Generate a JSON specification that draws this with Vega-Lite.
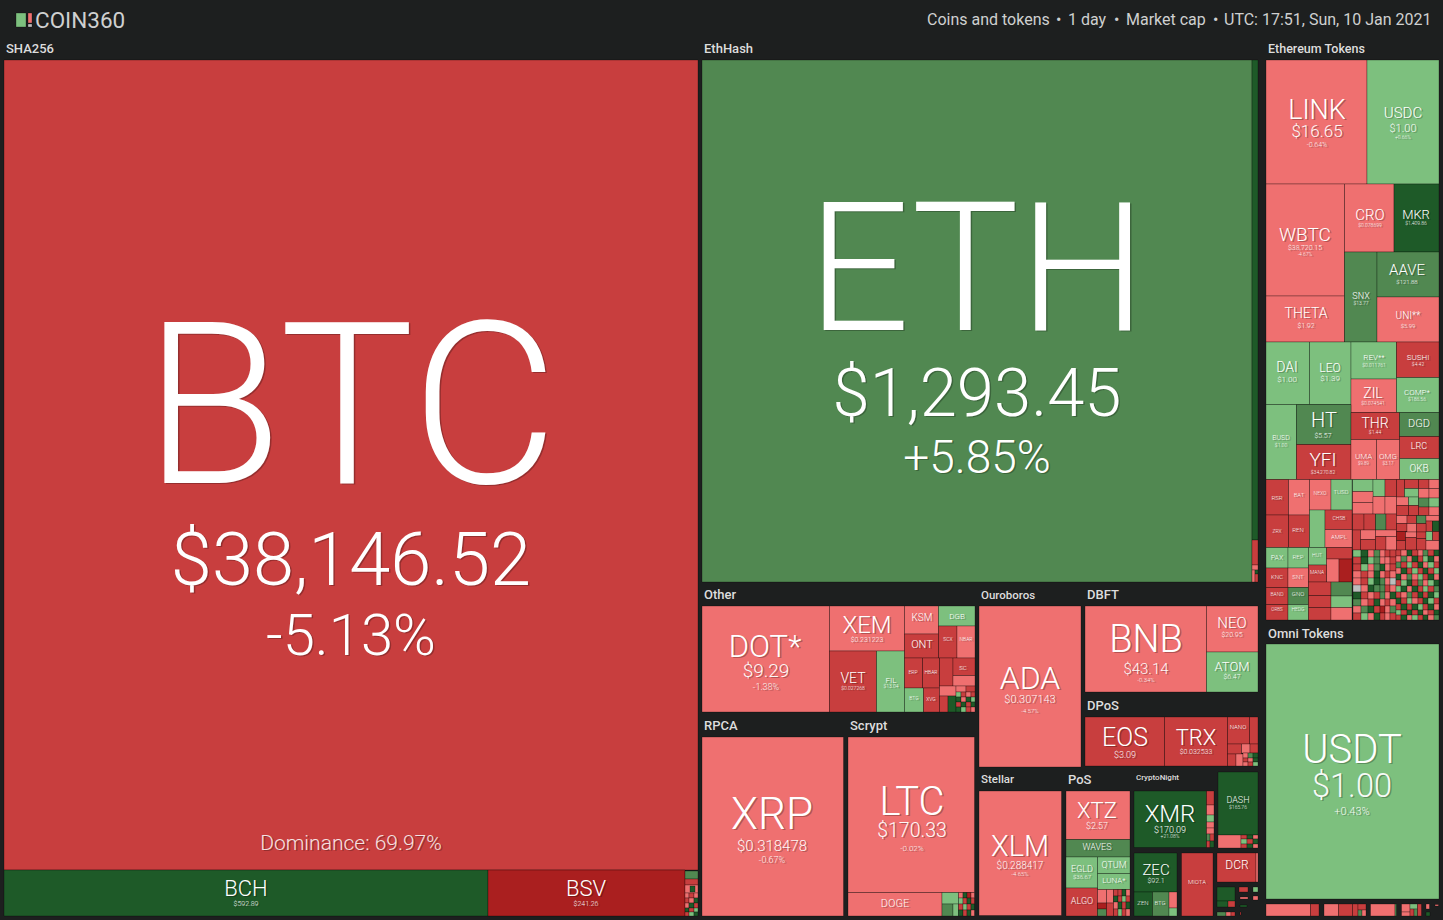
{"$schema":"https://vega.github.io/schema/vega-lite/v6.json","width":1443,"height":920,"padding":0,"autosize":{"type":"fit","contains":"padding"},"background":"#1d1f1f","config":{"view":{"stroke":null}},
"layer":[
{"data":{"values":[
{"x0":16,"x1":26,"y0":13,"y1":27,"c":2},{"x0":28,"x1":32,"y0":13,"y1":23,"c":-2},{"x0":28,"x1":32,"y0":24,"y1":27,"c":0},
{"x0":4,"x1":698,"y0":60,"y1":870,"c":-5.13},{"x0":4,"x1":488,"y0":870,"y1":916,"c":14},{"x0":488,"x1":685,"y0":870,"y1":916,"c":-11},{"x0":685,"x1":698,"y0":871,"y1":879,"c":7},{"x0":685,"x1":698,"y0":879,"y1":885,"c":-7},{"x0":685,"x1":698,"y0":885,"y1":893,"c":-2},{"x0":690,"x1":695,"y0":886,"y1":892,"c":14},
{"x0":685,"x1":689,"y0":893,"y1":898,"c":-2},{"x0":689,"x1":694,"y0":893,"y1":898,"c":-7},{"x0":694,"x1":698,"y0":893,"y1":898,"c":-2},{"x0":685,"x1":689,"y0":898,"y1":903,"c":-7},{"x0":689,"x1":694,"y0":898,"y1":903,"c":-2},{"x0":694,"x1":698,"y0":898,"y1":903,"c":14},{"x0":685,"x1":689,"y0":903,"y1":908,"c":-2},{"x0":689,"x1":694,"y0":903,"y1":908,"c":14},{"x0":694,"x1":698,"y0":903,"y1":908,"c":-7},{"x0":685,"x1":689,"y0":908,"y1":912,"c":14},{"x0":689,"x1":694,"y0":908,"y1":912,"c":-7},{"x0":694,"x1":698,"y0":908,"y1":912,"c":2},{"x0":685,"x1":689,"y0":912,"y1":916,"c":-7},{"x0":689,"x1":694,"y0":912,"y1":916,"c":2},{"x0":694,"x1":698,"y0":912,"y1":916,"c":14},
{"x0":702,"x1":1252,"y0":60,"y1":582,"c":5.85},{"x0":1252,"x1":1258,"y0":60,"y1":540,"c":14},{"x0":1252,"x1":1258,"y0":540,"y1":565,"c":-7},{"x0":1252,"x1":1258,"y0":565,"y1":570,"c":-2},{"x0":1252,"x1":1255,"y0":570,"y1":582,"c":-2},{"x0":1255,"x1":1258,"y0":570,"y1":574,"c":14},{"x0":1255,"x1":1258,"y0":574,"y1":582,"c":-7},
{"x0":1266,"x1":1367,"y0":60,"y1":184,"c":-0.64},{"x0":1367,"x1":1439,"y0":60,"y1":184,"c":0.66},{"x0":1266,"x1":1344.5,"y0":184,"y1":296,"c":-4.67},{"x0":1266,"x1":1344.5,"y0":296,"y1":342,"c":-3},{"x0":1344.5,"x1":1394,"y0":184,"y1":252,"c":-2},{"x0":1394,"x1":1439,"y0":184,"y1":252,"c":14},{"x0":1344.5,"x1":1377,"y0":252,"y1":342,"c":7},{"x0":1377,"x1":1439,"y0":252,"y1":297,"c":7},{"x0":1377,"x1":1439,"y0":297,"y1":342,"c":-2},
{"x0":1266,"x1":1309.5,"y0":342,"y1":404.5,"c":0.2},{"x0":1309.5,"x1":1351,"y0":342,"y1":404.5,"c":2},{"x0":1351,"x1":1396.5,"y0":342,"y1":379,"c":2},{"x0":1396.5,"x1":1439,"y0":342,"y1":377.5,"c":-7},{"x0":1351,"x1":1396.5,"y0":379,"y1":412.5,"c":-2},{"x0":1396.5,"x1":1439,"y0":377.5,"y1":412.5,"c":2},{"x0":1266,"x1":1296.5,"y0":404.5,"y1":479.5,"c":0.2},{"x0":1296.5,"x1":1351,"y0":404.5,"y1":444.5,"c":7},{"x0":1296.5,"x1":1351,"y0":444.5,"y1":479.5,"c":-7},{"x0":1351,"x1":1399.5,"y0":412.5,"y1":439.5,"c":-7},{"x0":1399.5,"x1":1439,"y0":412.5,"y1":436.5,"c":7},{"x0":1399.5,"x1":1439,"y0":436.5,"y1":458.5,"c":-7},{"x0":1399.5,"x1":1439,"y0":458.5,"y1":479.5,"c":2},{"x0":1351,"x1":1376.5,"y0":439.5,"y1":479.5,"c":-2},{"x0":1376.5,"x1":1399.5,"y0":439.5,"y1":479.5,"c":-2},
{"x0":1266,"x1":1288.5,"y0":479.5,"y1":515,"c":-7},{"x0":1288.5,"x1":1309.5,"y0":479.5,"y1":515,"c":-2},{"x0":1309.5,"x1":1331,"y0":479.5,"y1":510,"c":-2},{"x0":1331,"x1":1352,"y0":479.5,"y1":510,"c":2},{"x0":1266,"x1":1288.5,"y0":515,"y1":547.5,"c":-7},{"x0":1288.5,"x1":1309.5,"y0":515,"y1":547.5,"c":-7},{"x0":1309.5,"x1":1325,"y0":510,"y1":547.5,"c":2},{"x0":1325,"x1":1352,"y0":510,"y1":529.5,"c":-7},{"x0":1325,"x1":1352,"y0":529.5,"y1":547.5,"c":-2},{"x0":1266,"x1":1288,"y0":547.5,"y1":568,"c":2},{"x0":1288,"x1":1308.5,"y0":547.5,"y1":568,"c":2},{"x0":1308.5,"x1":1326.5,"y0":547.5,"y1":565,"c":2},{"x0":1326.5,"x1":1352,"y0":547.5,"y1":559,"c":-7},{"x0":1326.5,"x1":1339,"y0":559,"y1":582,"c":-2},{"x0":1339,"x1":1352,"y0":559,"y1":582,"c":-12},{"x0":1266,"x1":1288,"y0":568,"y1":587.5,"c":-7},{"x0":1288,"x1":1308.5,"y0":568,"y1":587.5,"c":-2},{"x0":1308.5,"x1":1326.5,"y0":565,"y1":582,"c":-7},{"x0":1266,"x1":1288,"y0":587.5,"y1":604.5,"c":-7},{"x0":1288,"x1":1308.5,"y0":587.5,"y1":604.5,"c":7},{"x0":1266,"x1":1288,"y0":604.5,"y1":620,"c":-7},{"x0":1288,"x1":1308.5,"y0":604.5,"y1":620,"c":2},{"x0":1308.5,"x1":1331,"y0":582,"y1":595.5,"c":-7},{"x0":1308.5,"x1":1331,"y0":595.5,"y1":607.5,"c":-7},{"x0":1308.5,"x1":1331,"y0":607.5,"y1":620,"c":-7},{"x0":1331,"x1":1352,"y0":582,"y1":596,"c":7},{"x0":1331,"x1":1352,"y0":596,"y1":607.5,"c":2},{"x0":1331,"x1":1352,"y0":607.5,"y1":620,"c":-2},
{"x0":1352.5,"x1":1373,"y0":479.5,"y1":491.5,"c":2},{"x0":1373,"x1":1385,"y0":479.5,"y1":496.5,"c":2},{"x0":1385,"x1":1396.5,"y0":479.5,"y1":496.5,"c":-7},{"x0":1352.5,"x1":1373,"y0":491.5,"y1":502.5,"c":-2},{"x0":1352.5,"x1":1373,"y0":502.5,"y1":514,"c":-2},{"x0":1373,"x1":1385,"y0":496.5,"y1":514,"c":-2},{"x0":1385,"x1":1396.5,"y0":496.5,"y1":514,"c":-2},{"x0":1352.5,"x1":1364,"y0":514,"y1":530,"c":-7},{"x0":1364,"x1":1375.5,"y0":514,"y1":530,"c":-7},{"x0":1375.5,"x1":1386,"y0":514,"y1":530,"c":7},{"x0":1386,"x1":1396.5,"y0":514,"y1":530,"c":-7},{"x0":1352.5,"x1":1360.5,"y0":530,"y1":550,"c":-7},{"x0":1360.5,"x1":1375.5,"y0":530,"y1":539.5,"c":-2},{"x0":1360.5,"x1":1375.5,"y0":539.5,"y1":550,"c":-7},{"x0":1375.5,"x1":1396.5,"y0":530,"y1":536.5,"c":-2},{"x0":1375.5,"x1":1386,"y0":536.5,"y1":550,"c":-7},{"x0":1386,"x1":1396.5,"y0":536.5,"y1":550,"c":-2},
{"x0":1396.5,"x1":1404.5,"y0":479.5,"y1":497,"c":-7},{"x0":1404.5,"x1":1418.5,"y0":479.5,"y1":488.5,"c":-7},{"x0":1404.5,"x1":1418.5,"y0":488.5,"y1":497,"c":2},{"x0":1418.5,"x1":1429,"y0":479.5,"y1":488.5,"c":-7},{"x0":1429,"x1":1439,"y0":479.5,"y1":488.5,"c":-2},{"x0":1418.5,"x1":1429,"y0":488.5,"y1":498,"c":-2},{"x0":1429,"x1":1439,"y0":488.5,"y1":498,"c":-2},{"x0":1396.5,"x1":1408.5,"y0":497,"y1":505.5,"c":-2},{"x0":1408.5,"x1":1418.5,"y0":497,"y1":505.5,"c":2},{"x0":1418.5,"x1":1429,"y0":498,"y1":507,"c":7},{"x0":1429,"x1":1439,"y0":498,"y1":507,"c":2},{"x0":1396.5,"x1":1408.5,"y0":505.5,"y1":515.5,"c":-7},{"x0":1408.5,"x1":1418.5,"y0":505.5,"y1":515.5,"c":-7},{"x0":1418.5,"x1":1429,"y0":507,"y1":515.5,"c":-7},{"x0":1429,"x1":1439,"y0":507,"y1":515.5,"c":-2},{"x0":1396.5,"x1":1407,"y0":515.5,"y1":523.5,"c":-2},{"x0":1407,"x1":1416.5,"y0":515.5,"y1":523.5,"c":-7},{"x0":1416.5,"x1":1426,"y0":515.5,"y1":523.5,"c":7},{"x0":1426,"x1":1439,"y0":515.5,"y1":521,"c":-2},{"x0":1426,"x1":1432.5,"y0":521,"y1":531.5,"c":-7},{"x0":1432.5,"x1":1439,"y0":521,"y1":531.5,"c":14},{"x0":1396.5,"x1":1407,"y0":523.5,"y1":531.5,"c":-7},{"x0":1407,"x1":1416.5,"y0":523.5,"y1":532,"c":-2},{"x0":1416.5,"x1":1426,"y0":523.5,"y1":532,"c":-7},{"x0":1396.5,"x1":1405.5,"y0":531.5,"y1":540.5,"c":-12},{"x0":1405.5,"x1":1416.5,"y0":532,"y1":537.5,"c":-2},{"x0":1405.5,"x1":1416.5,"y0":537.5,"y1":550,"c":-7},{"x0":1416.5,"x1":1426,"y0":532,"y1":538.5,"c":-7},{"x0":1416.5,"x1":1426,"y0":538.5,"y1":550,"c":-7},{"x0":1426,"x1":1432.5,"y0":531.5,"y1":540.5,"c":2},{"x0":1432.5,"x1":1439,"y0":531.5,"y1":540.5,"c":-7},{"x0":1396.5,"x1":1405.5,"y0":540.5,"y1":550,"c":-7},{"x0":1426,"x1":1439,"y0":540.5,"y1":550,"c":-2},
{"x0":1353,"x1":1361,"y0":550,"y1":557,"c":2},{"x0":1361,"x1":1368,"y0":550,"y1":557,"c":14},{"x0":1368,"x1":1374,"y0":550,"y1":557,"c":-2},{"x0":1374,"x1":1380,"y0":550,"y1":557,"c":7},{"x0":1380,"x1":1385,"y0":550,"y1":557,"c":-2},{"x0":1385,"x1":1390,"y0":550,"y1":557,"c":-7},{"x0":1390,"x1":1396,"y0":550,"y1":557,"c":-7},
{"x0":1353,"x1":1361,"y0":557,"y1":564,"c":-7},{"x0":1361,"x1":1368,"y0":557,"y1":564,"c":14},{"x0":1368,"x1":1374,"y0":557,"y1":564,"c":2},{"x0":1374,"x1":1380,"y0":557,"y1":564,"c":7},{"x0":1380,"x1":1385,"y0":557,"y1":564,"c":-2},{"x0":1385,"x1":1390,"y0":557,"y1":564,"c":-2},{"x0":1390,"x1":1396,"y0":557,"y1":564,"c":-7},
{"x0":1353,"x1":1361,"y0":564,"y1":571,"c":-7},{"x0":1361,"x1":1368,"y0":564,"y1":571,"c":2},{"x0":1368,"x1":1374,"y0":564,"y1":571,"c":-2},{"x0":1374,"x1":1380,"y0":564,"y1":571,"c":7},{"x0":1380,"x1":1385,"y0":564,"y1":571,"c":14},{"x0":1385,"x1":1390,"y0":564,"y1":571,"c":-2},{"x0":1390,"x1":1396,"y0":564,"y1":571,"c":-7},
{"x0":1353,"x1":1361,"y0":571,"y1":578,"c":-2},{"x0":1361,"x1":1368,"y0":571,"y1":578,"c":-7},{"x0":1368,"x1":1374,"y0":571,"y1":578,"c":-2},{"x0":1374,"x1":1380,"y0":571,"y1":578,"c":14},{"x0":1380,"x1":1385,"y0":571,"y1":578,"c":-2},{"x0":1385,"x1":1390,"y0":571,"y1":578,"c":-7},{"x0":1390,"x1":1396,"y0":571,"y1":578,"c":-2},
{"x0":1353,"x1":1361,"y0":578,"y1":585,"c":-2},{"x0":1361,"x1":1368,"y0":578,"y1":585,"c":-7},{"x0":1368,"x1":1374,"y0":578,"y1":585,"c":2},{"x0":1374,"x1":1380,"y0":578,"y1":585,"c":14},{"x0":1380,"x1":1385,"y0":578,"y1":585,"c":7},{"x0":1385,"x1":1390,"y0":578,"y1":585,"c":-2},{"x0":1390,"x1":1396,"y0":578,"y1":585,"c":0},
{"x0":1353,"x1":1361,"y0":585,"y1":592,"c":0},{"x0":1361,"x1":1368,"y0":585,"y1":592,"c":-2},{"x0":1368,"x1":1374,"y0":585,"y1":592,"c":14},{"x0":1374,"x1":1380,"y0":585,"y1":592,"c":7},{"x0":1380,"x1":1385,"y0":585,"y1":592,"c":7},{"x0":1385,"x1":1390,"y0":585,"y1":592,"c":-7},{"x0":1390,"x1":1396,"y0":585,"y1":592,"c":-2},
{"x0":1353,"x1":1361,"y0":592,"y1":599,"c":14},{"x0":1361,"x1":1368,"y0":592,"y1":599,"c":-7},{"x0":1368,"x1":1374,"y0":592,"y1":599,"c":-2},{"x0":1374,"x1":1380,"y0":592,"y1":599,"c":-7},{"x0":1380,"x1":1385,"y0":592,"y1":599,"c":7},{"x0":1385,"x1":1390,"y0":592,"y1":599,"c":-2},{"x0":1390,"x1":1396,"y0":592,"y1":599,"c":14},
{"x0":1353,"x1":1361,"y0":599,"y1":606,"c":7},{"x0":1361,"x1":1368,"y0":599,"y1":606,"c":-2},{"x0":1368,"x1":1374,"y0":599,"y1":606,"c":-7},{"x0":1374,"x1":1380,"y0":599,"y1":606,"c":14},{"x0":1380,"x1":1385,"y0":599,"y1":606,"c":-2},{"x0":1385,"x1":1390,"y0":599,"y1":606,"c":-7},{"x0":1390,"x1":1396,"y0":599,"y1":606,"c":-2},
{"x0":1353,"x1":1361,"y0":606,"y1":613,"c":-2},{"x0":1361,"x1":1368,"y0":606,"y1":613,"c":7},{"x0":1368,"x1":1374,"y0":606,"y1":613,"c":14},{"x0":1374,"x1":1380,"y0":606,"y1":613,"c":-7},{"x0":1380,"x1":1385,"y0":606,"y1":613,"c":-12},{"x0":1385,"x1":1390,"y0":606,"y1":613,"c":-2},{"x0":1390,"x1":1396,"y0":606,"y1":613,"c":7},
{"x0":1353,"x1":1361,"y0":613,"y1":620,"c":-7},{"x0":1361,"x1":1368,"y0":613,"y1":620,"c":2},{"x0":1368,"x1":1374,"y0":613,"y1":620,"c":-2},{"x0":1374,"x1":1380,"y0":613,"y1":620,"c":14},{"x0":1380,"x1":1385,"y0":613,"y1":620,"c":-7},{"x0":1385,"x1":1390,"y0":613,"y1":620,"c":-2},{"x0":1390,"x1":1396,"y0":613,"y1":620,"c":-7},
{"x0":1396,"x1":1401,"y0":550,"y1":556,"c":-7},{"x0":1401,"x1":1407,"y0":550,"y1":556,"c":-2},{"x0":1407,"x1":1412,"y0":550,"y1":556,"c":14},{"x0":1412,"x1":1418,"y0":550,"y1":556,"c":-7},{"x0":1418,"x1":1423,"y0":550,"y1":556,"c":-2},{"x0":1423,"x1":1428,"y0":550,"y1":556,"c":7},{"x0":1428,"x1":1434,"y0":550,"y1":556,"c":-7},{"x0":1434,"x1":1439,"y0":550,"y1":556,"c":14},
{"x0":1396,"x1":1401,"y0":556,"y1":562,"c":-2},{"x0":1401,"x1":1407,"y0":556,"y1":562,"c":7},{"x0":1407,"x1":1412,"y0":556,"y1":562,"c":-2},{"x0":1412,"x1":1418,"y0":556,"y1":562,"c":14},{"x0":1418,"x1":1423,"y0":556,"y1":562,"c":-7},{"x0":1423,"x1":1428,"y0":556,"y1":562,"c":2},{"x0":1428,"x1":1434,"y0":556,"y1":562,"c":14},{"x0":1434,"x1":1439,"y0":556,"y1":562,"c":-2},
{"x0":1396,"x1":1401,"y0":562,"y1":568,"c":7},{"x0":1401,"x1":1407,"y0":562,"y1":568,"c":-7},{"x0":1407,"x1":1412,"y0":562,"y1":568,"c":2},{"x0":1412,"x1":1418,"y0":562,"y1":568,"c":-7},{"x0":1418,"x1":1423,"y0":562,"y1":568,"c":14},{"x0":1423,"x1":1428,"y0":562,"y1":568,"c":-2},{"x0":1428,"x1":1434,"y0":562,"y1":568,"c":2},{"x0":1434,"x1":1439,"y0":562,"y1":568,"c":-7},
{"x0":1396,"x1":1401,"y0":568,"y1":574,"c":-2},{"x0":1401,"x1":1407,"y0":568,"y1":574,"c":14},{"x0":1407,"x1":1412,"y0":568,"y1":574,"c":-7},{"x0":1412,"x1":1418,"y0":568,"y1":574,"c":2},{"x0":1418,"x1":1423,"y0":568,"y1":574,"c":-7},{"x0":1423,"x1":1428,"y0":568,"y1":574,"c":14},{"x0":1428,"x1":1434,"y0":568,"y1":574,"c":-7},{"x0":1434,"x1":1439,"y0":568,"y1":574,"c":2},
{"x0":1396,"x1":1401,"y0":574,"y1":580,"c":14},{"x0":1401,"x1":1407,"y0":574,"y1":580,"c":-2},{"x0":1407,"x1":1412,"y0":574,"y1":580,"c":7},{"x0":1412,"x1":1418,"y0":574,"y1":580,"c":-2},{"x0":1418,"x1":1423,"y0":574,"y1":580,"c":2},{"x0":1423,"x1":1428,"y0":574,"y1":580,"c":-7},{"x0":1428,"x1":1434,"y0":574,"y1":580,"c":14},{"x0":1434,"x1":1439,"y0":574,"y1":580,"c":-2},
{"x0":1396,"x1":1401,"y0":580,"y1":586,"c":-7},{"x0":1401,"x1":1407,"y0":580,"y1":586,"c":2},{"x0":1407,"x1":1412,"y0":580,"y1":586,"c":14},{"x0":1412,"x1":1418,"y0":580,"y1":586,"c":-7},{"x0":1418,"x1":1423,"y0":580,"y1":586,"c":7},{"x0":1423,"x1":1428,"y0":580,"y1":586,"c":-2},{"x0":1428,"x1":1434,"y0":580,"y1":586,"c":2},{"x0":1434,"x1":1439,"y0":580,"y1":586,"c":14},
{"x0":1396,"x1":1401,"y0":586,"y1":592,"c":2},{"x0":1401,"x1":1407,"y0":586,"y1":592,"c":14},{"x0":1407,"x1":1412,"y0":586,"y1":592,"c":-2},{"x0":1412,"x1":1418,"y0":586,"y1":592,"c":14},{"x0":1418,"x1":1423,"y0":586,"y1":592,"c":-7},{"x0":1423,"x1":1428,"y0":586,"y1":592,"c":2},{"x0":1428,"x1":1434,"y0":586,"y1":592,"c":-7},{"x0":1434,"x1":1439,"y0":586,"y1":592,"c":7},
{"x0":1396,"x1":1401,"y0":592,"y1":598,"c":-7},{"x0":1401,"x1":1407,"y0":592,"y1":598,"c":-2},{"x0":1407,"x1":1412,"y0":592,"y1":598,"c":7},{"x0":1412,"x1":1418,"y0":592,"y1":598,"c":-7},{"x0":1418,"x1":1423,"y0":592,"y1":598,"c":14},{"x0":1423,"x1":1428,"y0":592,"y1":598,"c":-7},{"x0":1428,"x1":1434,"y0":592,"y1":598,"c":14},{"x0":1434,"x1":1439,"y0":592,"y1":598,"c":2},
{"x0":1396,"x1":1401,"y0":598,"y1":604,"c":14},{"x0":1401,"x1":1407,"y0":598,"y1":604,"c":-7},{"x0":1407,"x1":1412,"y0":598,"y1":604,"c":2},{"x0":1412,"x1":1418,"y0":598,"y1":604,"c":-2},{"x0":1418,"x1":1423,"y0":598,"y1":604,"c":-7},{"x0":1423,"x1":1428,"y0":598,"y1":604,"c":14},{"x0":1428,"x1":1434,"y0":598,"y1":604,"c":2},{"x0":1434,"x1":1439,"y0":598,"y1":604,"c":-7},
{"x0":1396,"x1":1401,"y0":604,"y1":610,"c":-7},{"x0":1401,"x1":1407,"y0":604,"y1":610,"c":14},{"x0":1407,"x1":1412,"y0":604,"y1":610,"c":-7},{"x0":1412,"x1":1418,"y0":604,"y1":610,"c":14},{"x0":1418,"x1":1423,"y0":604,"y1":610,"c":2},{"x0":1423,"x1":1428,"y0":604,"y1":610,"c":-7},{"x0":1428,"x1":1434,"y0":604,"y1":610,"c":14},{"x0":1434,"x1":1439,"y0":604,"y1":610,"c":-2},
{"x0":1396,"x1":1401,"y0":610,"y1":615,"c":2},{"x0":1401,"x1":1407,"y0":610,"y1":615,"c":-7},{"x0":1407,"x1":1412,"y0":610,"y1":615,"c":14},{"x0":1412,"x1":1418,"y0":610,"y1":615,"c":-7},{"x0":1418,"x1":1423,"y0":610,"y1":615,"c":14},{"x0":1423,"x1":1428,"y0":610,"y1":615,"c":-2},{"x0":1428,"x1":1434,"y0":610,"y1":615,"c":-7},{"x0":1434,"x1":1439,"y0":610,"y1":615,"c":14},
{"x0":1396,"x1":1401,"y0":615,"y1":620,"c":-7},{"x0":1401,"x1":1407,"y0":615,"y1":620,"c":14},{"x0":1407,"x1":1412,"y0":615,"y1":620,"c":-2},{"x0":1412,"x1":1418,"y0":615,"y1":620,"c":2},{"x0":1418,"x1":1423,"y0":615,"y1":620,"c":-7},{"x0":1423,"x1":1428,"y0":615,"y1":620,"c":14},{"x0":1428,"x1":1434,"y0":615,"y1":620,"c":-2},{"x0":1434,"x1":1439,"y0":615,"y1":620,"c":7},
{"x0":702,"x1":829.5,"y0":606,"y1":712,"c":-1.38},{"x0":829.5,"x1":904.5,"y0":606,"y1":651,"c":-2},{"x0":829.5,"x1":876.5,"y0":651,"y1":712,"c":-7},{"x0":876.5,"x1":904.5,"y0":651,"y1":712,"c":2},{"x0":904.5,"x1":938.5,"y0":606,"y1":634,"c":-2},{"x0":938.5,"x1":975,"y0":606,"y1":626,"c":2},{"x0":904.5,"x1":938.5,"y0":634,"y1":658,"c":-7},{"x0":938.5,"x1":957,"y0":626,"y1":658,"c":-7},{"x0":957,"x1":975,"y0":626,"y1":658,"c":-2},{"x0":904.5,"x1":922.5,"y0":658,"y1":688,"c":-7},{"x0":922.5,"x1":939.5,"y0":658,"y1":688,"c":-7},{"x0":939.5,"x1":953,"y0":658,"y1":686,"c":-7},{"x0":953,"x1":975,"y0":658,"y1":675.5,"c":-7},{"x0":953,"x1":975,"y0":675.5,"y1":686,"c":-2},{"x0":904.5,"x1":923.5,"y0":688,"y1":712,"c":2},{"x0":923.5,"x1":939.5,"y0":688,"y1":712,"c":-7},{"x0":939.5,"x1":956,"y0":686,"y1":696,"c":-2},{"x0":939.5,"x1":948,"y0":696,"y1":712,"c":-7},{"x0":948,"x1":956,"y0":696,"y1":712,"c":14},
{"x0":956,"x1":966,"y0":686,"y1":692,"c":-2},{"x0":966,"x1":975,"y0":686,"y1":692,"c":-7},{"x0":956,"x1":961,"y0":692,"y1":697,"c":2},{"x0":961,"x1":966,"y0":692,"y1":697,"c":-7},{"x0":966,"x1":971,"y0":692,"y1":697,"c":-2},{"x0":971,"x1":975,"y0":692,"y1":697,"c":-7},{"x0":956,"x1":961,"y0":697,"y1":702,"c":14},{"x0":961,"x1":966,"y0":697,"y1":702,"c":-2},{"x0":966,"x1":971,"y0":697,"y1":702,"c":14},{"x0":971,"x1":975,"y0":697,"y1":702,"c":2},{"x0":956,"x1":961,"y0":702,"y1":707,"c":-7},{"x0":961,"x1":966,"y0":702,"y1":707,"c":14},{"x0":966,"x1":971,"y0":702,"y1":707,"c":-7},{"x0":971,"x1":975,"y0":702,"y1":707,"c":14},{"x0":956,"x1":961,"y0":707,"y1":712,"c":14},{"x0":961,"x1":966,"y0":707,"y1":712,"c":2},{"x0":966,"x1":971,"y0":707,"y1":712,"c":-7},{"x0":971,"x1":975,"y0":707,"y1":712,"c":-2},
{"x0":702,"x1":843.5,"y0":737,"y1":916,"c":-0.67},{"x0":848,"x1":974.5,"y0":737,"y1":892.5,"c":-0.02},{"x0":848,"x1":942,"y0":892.5,"y1":916,"c":-2},{"x0":942,"x1":958.5,"y0":892.5,"y1":904,"c":2},{"x0":942,"x1":953,"y0":904,"y1":916,"c":7},{"x0":953,"x1":958.5,"y0":904,"y1":916,"c":2},
{"x0":958.5,"x1":963,"y0":892.5,"y1":898,"c":-2},{"x0":963,"x1":967,"y0":892.5,"y1":898,"c":14},{"x0":967,"x1":971,"y0":892.5,"y1":898,"c":-12},{"x0":971,"x1":974.5,"y0":892.5,"y1":898,"c":-2},{"x0":958.5,"x1":963,"y0":898,"y1":904,"c":2},{"x0":963,"x1":967,"y0":898,"y1":904,"c":-7},{"x0":967,"x1":971,"y0":898,"y1":904,"c":14},{"x0":971,"x1":974.5,"y0":898,"y1":904,"c":-7},{"x0":958.5,"x1":963,"y0":904,"y1":910,"c":-7},{"x0":963,"x1":967,"y0":904,"y1":910,"c":2},{"x0":967,"x1":971,"y0":904,"y1":910,"c":-7},{"x0":971,"x1":974.5,"y0":904,"y1":910,"c":14},{"x0":958.5,"x1":963,"y0":910,"y1":916,"c":14},{"x0":963,"x1":967,"y0":910,"y1":916,"c":-7},{"x0":967,"x1":971,"y0":910,"y1":916,"c":14},{"x0":971,"x1":974.5,"y0":910,"y1":916,"c":-2},
{"x0":979,"x1":1081,"y0":606,"y1":767,"c":-4.57},{"x0":1085,"x1":1206.5,"y0":606,"y1":692,"c":-0.34},{"x0":1206.5,"x1":1258,"y0":606,"y1":652,"c":-2},{"x0":1206.5,"x1":1258,"y0":652,"y1":692,"c":2},
{"x0":1085,"x1":1164.5,"y0":717,"y1":766,"c":-7},{"x0":1164.5,"x1":1227.5,"y0":717,"y1":766,"c":-7},{"x0":1227.5,"x1":1249.5,"y0":717,"y1":744,"c":-7},{"x0":1249.5,"x1":1258,"y0":717,"y1":744,"c":-7},{"x0":1227.5,"x1":1241.5,"y0":744,"y1":754,"c":-7},{"x0":1227.5,"x1":1236,"y0":754,"y1":766,"c":-7},{"x0":1236,"x1":1243,"y0":754,"y1":766,"c":-2},{"x0":1241.5,"x1":1250,"y0":744,"y1":753,"c":-2},{"x0":1250,"x1":1258,"y0":744,"y1":753,"c":-7},{"x0":1243,"x1":1248,"y0":753,"y1":758,"c":-2},{"x0":1248,"x1":1253,"y0":753,"y1":758,"c":7},{"x0":1253,"x1":1258,"y0":753,"y1":758,"c":14},{"x0":1243,"x1":1248,"y0":758,"y1":762,"c":-7},{"x0":1248,"x1":1253,"y0":758,"y1":762,"c":-2},{"x0":1253,"x1":1258,"y0":758,"y1":762,"c":14},{"x0":1243,"x1":1248,"y0":762,"y1":766,"c":-2},{"x0":1248,"x1":1253,"y0":762,"y1":766,"c":-7},{"x0":1253,"x1":1258,"y0":762,"y1":766,"c":2},
{"x0":979,"x1":1061.5,"y0":791,"y1":915.5,"c":-4.65},{"x0":1066,"x1":1130,"y0":791,"y1":839.5,"c":-2},{"x0":1066,"x1":1130,"y0":839.5,"y1":857,"c":7},{"x0":1066,"x1":1097.5,"y0":857,"y1":888,"c":2},{"x0":1097.5,"x1":1130,"y0":857,"y1":873.5,"c":2},{"x0":1097.5,"x1":1130,"y0":873.5,"y1":889.5,"c":2},{"x0":1066,"x1":1097.5,"y0":888,"y1":916,"c":-7},{"x0":1097.5,"x1":1106.5,"y0":889.5,"y1":903,"c":-2},{"x0":1106.5,"x1":1113.5,"y0":889.5,"y1":903,"c":-2},{"x0":1097.5,"x1":1106.5,"y0":903,"y1":909,"c":-12},{"x0":1097.5,"x1":1106.5,"y0":909,"y1":916,"c":7},{"x0":1106.5,"x1":1113.5,"y0":903,"y1":916,"c":-7},
{"x0":1113.5,"x1":1118,"y0":889.5,"y1":896,"c":-7},{"x0":1118,"x1":1122,"y0":889.5,"y1":896,"c":-7},{"x0":1122,"x1":1126,"y0":889.5,"y1":896,"c":14},{"x0":1126,"x1":1130,"y0":889.5,"y1":896,"c":-2},{"x0":1113.5,"x1":1118,"y0":896,"y1":902,"c":14},{"x0":1118,"x1":1122,"y0":896,"y1":902,"c":-7},{"x0":1122,"x1":1126,"y0":896,"y1":902,"c":2},{"x0":1126,"x1":1130,"y0":896,"y1":902,"c":-7},{"x0":1113.5,"x1":1118,"y0":902,"y1":909,"c":-2},{"x0":1118,"x1":1122,"y0":902,"y1":909,"c":14},{"x0":1122,"x1":1126,"y0":902,"y1":909,"c":-7},{"x0":1126,"x1":1130,"y0":902,"y1":909,"c":14},{"x0":1113.5,"x1":1118,"y0":909,"y1":916,"c":-7},{"x0":1118,"x1":1122,"y0":909,"y1":916,"c":2},{"x0":1122,"x1":1126,"y0":909,"y1":916,"c":-7},{"x0":1126,"x1":1130,"y0":909,"y1":916,"c":-2},
{"x0":1134,"x1":1206.5,"y0":791,"y1":847.5,"c":21.08},{"x0":1206.5,"x1":1214,"y0":791,"y1":805,"c":-7},{"x0":1206.5,"x1":1214,"y0":805,"y1":815,"c":-2},{"x0":1206.5,"x1":1214,"y0":815,"y1":822,"c":2},{"x0":1206.5,"x1":1214,"y0":822,"y1":828,"c":-2},{"x0":1206.5,"x1":1214,"y0":828,"y1":834,"c":-2},{"x0":1206.5,"x1":1210,"y0":834,"y1":841,"c":7},{"x0":1210,"x1":1214,"y0":834,"y1":841,"c":-7},{"x0":1206.5,"x1":1210,"y0":841,"y1":847.5,"c":-7},{"x0":1210,"x1":1214,"y0":841,"y1":847.5,"c":14},
{"x0":1134,"x1":1177,"y0":853,"y1":892,"c":14},{"x0":1134,"x1":1152.5,"y0":892,"y1":916,"c":14},{"x0":1152.5,"x1":1169,"y0":892,"y1":916,"c":7},{"x0":1169,"x1":1177,"y0":892,"y1":908,"c":-2},{"x0":1169,"x1":1177,"y0":908,"y1":916,"c":2},{"x0":1181.5,"x1":1213,"y0":853,"y1":916,"c":-7},
{"x0":1218,"x1":1258,"y0":772,"y1":835,"c":14},{"x0":1218,"x1":1241,"y0":835,"y1":848,"c":-2},{"x0":1241,"x1":1247,"y0":835,"y1":839,"c":-7},{"x0":1247,"x1":1253,"y0":835,"y1":839,"c":14},{"x0":1253,"x1":1258,"y0":835,"y1":839,"c":-2},{"x0":1241,"x1":1247,"y0":839,"y1":844,"c":2},{"x0":1247,"x1":1253,"y0":839,"y1":844,"c":-7},{"x0":1253,"x1":1258,"y0":839,"y1":844,"c":14},{"x0":1241,"x1":1247,"y0":844,"y1":848,"c":-7},{"x0":1247,"x1":1253,"y0":844,"y1":848,"c":14},{"x0":1253,"x1":1258,"y0":844,"y1":848,"c":-2},
{"x0":1217,"x1":1256,"y0":853,"y1":882,"c":-7},{"x0":1256,"x1":1258,"y0":853,"y1":882,"c":-2},{"x0":1217,"x1":1235,"y0":887,"y1":901,"c":14},{"x0":1217,"x1":1228,"y0":901,"y1":907,"c":14},{"x0":1228,"x1":1235,"y0":901,"y1":907,"c":-7},{"x0":1217,"x1":1226,"y0":912,"y1":916,"c":7},{"x0":1226,"x1":1231,"y0":912,"y1":916,"c":-2},{"x0":1231,"x1":1235,"y0":912,"y1":916,"c":-7},{"x0":1239,"x1":1248,"y0":887,"y1":892,"c":-7},{"x0":1253,"x1":1258,"y0":887,"y1":892,"c":2},{"x0":1240,"x1":1248,"y0":897,"y1":899,"c":-2},{"x0":1253,"x1":1258,"y0":896,"y1":900,"c":-2},{"x0":1240,"x1":1247,"y0":905,"y1":907,"c":14},{"x0":1240,"x1":1241,"y0":912,"y1":915,"c":-7},
{"x0":1266,"x1":1439,"y0":644,"y1":899,"c":0.43},
{"x0":1266,"x1":1310.5,"y0":904,"y1":916,"c":-2},{"x0":1310.5,"x1":1319,"y0":904,"y1":916,"c":-7},{"x0":1324,"x1":1338.5,"y0":904,"y1":916,"c":-2},{"x0":1338.5,"x1":1352.5,"y0":904,"y1":916,"c":-7},{"x0":1352.5,"x1":1358,"y0":904,"y1":916,"c":-7},{"x0":1358,"x1":1366,"y0":904,"y1":910,"c":-7},{"x0":1358,"x1":1362,"y0":910,"y1":916,"c":7},{"x0":1362,"x1":1366,"y0":910,"y1":916,"c":-2},{"x0":1370.5,"x1":1395,"y0":904,"y1":916,"c":-2},{"x0":1395,"x1":1396.5,"y0":904,"y1":916,"c":7},{"x0":1401.5,"x1":1410,"y0":904,"y1":912,"c":-2},{"x0":1401.5,"x1":1410,"y0":912,"y1":916,"c":-2},{"x0":1410,"x1":1417.5,"y0":904,"y1":909,"c":2},{"x0":1410,"x1":1414,"y0":909,"y1":916,"c":-7},{"x0":1414,"x1":1417.5,"y0":909,"y1":916,"c":7},{"x0":1417.5,"x1":1421.5,"y0":904,"y1":916,"c":-7},{"x0":1426,"x1":1429.5,"y0":904,"y1":909,"c":-2},{"x0":1426,"x1":1430,"y0":912,"y1":916,"c":14},{"x0":1435,"x1":1438.5,"y0":904.5,"y1":906,"c":-2}
]},
"mark":{"type":"rect","stroke":"#000000","strokeOpacity":0.28,"strokeWidth":1},
"encoding":{"x":{"field":"x0","type":"quantitative","axis":null,"scale":{"domain":[0,1443],"nice":false,"zero":false}},"x2":{"field":"x1"},"y":{"field":"y0","type":"quantitative","axis":null,"scale":{"domain":[0,920],"reverse":true,"nice":false,"zero":false}},"y2":{"field":"y1"},
"color":{"field":"c","type":"quantitative","legend":null,"scale":{"type":"threshold","domain":[-10,-5,-0.001,0.001,5,10],"range":["#aa1f1f","#c83e3e","#ef7070","#bdbdbd","#7dc07e","#518851","#1e5a28"]}}}},
{"data":{"values":[
{"s":"SHA256","x":6,"y":53,"tier":"t13"},{"s":"EthHash","x":704,"y":53,"tier":"t13"},{"s":"Ethereum Tokens","x":1268,"y":53,"tier":"t12"},{"s":"Other","x":704,"y":599,"tier":"t13"},{"s":"Ouroboros","x":981,"y":599,"tier":"t11"},{"s":"DBFT","x":1087,"y":599,"tier":"t13"},{"s":"DPoS","x":1087,"y":710,"tier":"t13"},{"s":"RPCA","x":704,"y":730,"tier":"t13"},{"s":"Scrypt","x":850,"y":730,"tier":"t13"},{"s":"Stellar","x":981,"y":783,"tier":"t11"},{"s":"PoS","x":1068,"y":784,"tier":"t13"},{"s":"CryptoNight","x":1136,"y":780,"tier":"t8"},{"s":"Omni Tokens","x":1268,"y":638,"tier":"t13"}
]},
"mark":{"type":"text","align":"left","baseline":"alphabetic","font":"Roboto","fontWeight":500,"color":"#dddddd"},
"encoding":{"x":{"field":"x","type":"quantitative","axis":null,"scale":{"domain":[0,1443],"nice":false,"zero":false}},"y":{"field":"y","type":"quantitative","axis":null,"scale":{"domain":[0,920],"reverse":true,"nice":false,"zero":false}},"text":{"field":"s"},"size":{"field":"tier","type":"nominal","legend":null,"scale":{"type":"ordinal","domain":["t8","t11","t12","t13","head","logo","A","B","C","D","E","F","G","H","I","J","K","L","M","N","O","P","Q","R","S","T","U","V","W","X","Y","Z","a","b","c","d","e","f","g","dom"],"range":[8,11.5,12.5,13,16,22.5,226,180,74,67,58,44,46,40,38,32,31,32.5,29,27,25,24,22,20,19,19.5,17,15,14,13,12,11,10,9,8,7,6,5,4.5,21]}}}},
{"data":{"values":[
{"s":"COIN360","x":35,"y":28,"tier":"logo"},{"s":"Coins and tokens","x":927,"y":25,"tier":"head"},{"s":"•","x":1056,"y":25,"tier":"head"},{"s":"1 day","x":1068,"y":25,"tier":"head"},{"s":"•","x":1114,"y":25,"tier":"head"},{"s":"Market cap","x":1126,"y":25,"tier":"head"},{"s":"•","x":1213,"y":25,"tier":"head"},{"s":"UTC: 17:51, Sun, 10 Jan 2021","x":1224,"y":25,"tier":"head"}
]},
"mark":{"type":"text","align":"left","baseline":"alphabetic","font":"Roboto","fontWeight":400,"color":"#cfd0d0"},
"encoding":{"x":{"field":"x","type":"quantitative","axis":null,"scale":{"domain":[0,1443],"nice":false,"zero":false}},"y":{"field":"y","type":"quantitative","axis":null,"scale":{"domain":[0,920],"reverse":true,"nice":false,"zero":false}},"text":{"field":"s"},"size":{"field":"tier","type":"nominal","legend":null,"scale":{"type":"ordinal","domain":["t8","t11","t12","t13","head","logo","A","B","C","D","E","F","G","H","I","J","K","L","M","N","O","P","Q","R","S","T","U","V","W","X","Y","Z","a","b","c","d","e","f","g","dom"],"range":[8,11.5,12.5,13,16,22.5,226,180,74,67,58,44,46,40,38,32,31,32.5,29,27,25,24,22,20,19,19.5,17,15,14,13,12,11,10,9,8,7,6,5,4.5,21]}}}},
{"data":{"values":[
{"s":"BTC","x":351,"y":483,"tier":"A","k":"n"},{"s":"$38,146.52","x":351,"y":585,"tier":"C","k":"n"},{"s":"-5.13%","x":351,"y":655,"tier":"E","k":"n"},{"s":"Dominance: 69.97%","x":351,"y":850,"tier":"dom","k":"d"},
{"s":"BCH","x":246,"y":896,"tier":"Q","k":"n"},{"s":"$592.89","x":246,"y":906,"tier":"d","k":"p"},{"s":"BSV","x":586,"y":896,"tier":"Q","k":"n"},{"s":"$241.26","x":586,"y":906,"tier":"d","k":"p"},
{"s":"ETH","x":977,"y":330,"tier":"B","k":"n"},{"s":"$1,293.45","x":977,"y":416,"tier":"D","k":"n"},{"s":"+5.85%","x":977,"y":473,"tier":"G","k":"n"},
{"s":"DOT*","x":765,"y":657,"tier":"K","k":"n"},{"s":"$9.29","x":766,"y":677,"tier":"S","k":"p"},{"s":"-1.38%","x":766,"y":690,"tier":"b","k":"c"},
{"s":"XEM","x":867,"y":633,"tier":"P","k":"n"},{"s":"$0.231223","x":867,"y":642,"tier":"d","k":"p"},{"s":"VET","x":853,"y":683,"tier":"W","k":"n"},{"s":"$0.027268","x":853,"y":690,"tier":"f","k":"p"},{"s":"FIL","x":891,"y":683,"tier":"c","k":"n"},{"s":"$13.04","x":891,"y":688,"tier":"f","k":"p"},{"s":"KSM","x":922,"y":621,"tier":"a","k":"n"},{"s":"DGB","x":957,"y":619,"tier":"c","k":"n"},{"s":"ONT","x":922,"y":648,"tier":"Z","k":"n"},{"s":"SC","x":963,"y":670,"tier":"e","k":"n"},{"s":"XVG","x":931,"y":701,"tier":"f","k":"n"},{"s":"HBAR","x":931,"y":674,"tier":"f","k":"n"},{"s":"ERP","x":913,"y":674,"tier":"f","k":"n"},{"s":"BTG","x":914,"y":700,"tier":"f","k":"n"},{"s":"SCX","x":948,"y":641,"tier":"f","k":"n"},{"s":"NBAR","x":966,"y":641,"tier":"f","k":"n"},
{"s":"XRP","x":772,"y":829,"tier":"F","k":"n"},{"s":"$0.318478","x":772,"y":851,"tier":"V","k":"p"},{"s":"-0.67%","x":772,"y":863,"tier":"b","k":"c"},
{"s":"LTC","x":912,"y":815,"tier":"H","k":"n"},{"s":"$170.33","x":912,"y":837,"tier":"T","k":"p"},{"s":"-0.02%","x":912,"y":851,"tier":"c","k":"c"},{"s":"DOGE","x":895,"y":907,"tier":"Z","k":"p"},
{"s":"ADA","x":1030,"y":689,"tier":"J","k":"n"},{"s":"$0.307143","x":1030,"y":703,"tier":"Z","k":"p"},{"s":"-4.57%","x":1030,"y":713,"tier":"e","k":"c"},
{"s":"BNB","x":1146,"y":652,"tier":"I","k":"n"},{"s":"$43.14","x":1146,"y":674,"tier":"V","k":"p"},{"s":"-0.34%","x":1146,"y":682,"tier":"e","k":"c"},{"s":"NEO","x":1232,"y":628,"tier":"V","k":"n"},{"s":"$20.95","x":1232,"y":637,"tier":"d","k":"p"},{"s":"ATOM","x":1232,"y":671,"tier":"X","k":"n"},{"s":"$6.47","x":1232,"y":679,"tier":"d","k":"p"},
{"s":"EOS","x":1125,"y":746,"tier":"O","k":"n"},{"s":"$3.09","x":1125,"y":758,"tier":"b","k":"p"},{"s":"TRX","x":1196,"y":745,"tier":"Q","k":"n"},{"s":"$0.032533","x":1196,"y":754,"tier":"d","k":"p"},{"s":"NANO","x":1238,"y":729,"tier":"e","k":"n"},
{"s":"XLM","x":1020,"y":856,"tier":"M","k":"n"},{"s":"$0.288417","x":1020,"y":869,"tier":"a","k":"p"},{"s":"-4.65%","x":1020,"y":876,"tier":"e","k":"c"},
{"s":"XTZ","x":1097,"y":818,"tier":"Q","k":"n"},{"s":"$2.57","x":1097,"y":829,"tier":"b","k":"p"},{"s":"WAVES","x":1097,"y":850,"tier":"b","k":"p"},{"s":"EGLD","x":1082,"y":872,"tier":"b","k":"p"},{"s":"$36.67","x":1082,"y":879,"tier":"e","k":"p"},{"s":"QTUM","x":1114,"y":868,"tier":"b","k":"p"},{"s":"LUNA*","x":1114,"y":883,"tier":"c","k":"p"},{"s":"ALGO","x":1082,"y":904,"tier":"b","k":"p"},
{"s":"XMR","x":1170,"y":822,"tier":"P","k":"n"},{"s":"$170.09","x":1170,"y":833,"tier":"b","k":"n"},{"s":"+21.08%","x":1170,"y":838,"tier":"f","k":"c"},{"s":"ZEC","x":1156,"y":875,"tier":"V","k":"n"},{"s":"$92.1","x":1156,"y":883,"tier":"d","k":"p"},{"s":"ZEN","x":1143,"y":905,"tier":"e","k":"p"},{"s":"BTG","x":1160,"y":905,"tier":"e","k":"p"},{"s":"MIOTA","x":1197,"y":884,"tier":"e","k":"p"},{"s":"DASH","x":1238,"y":803,"tier":"b","k":"p"},{"s":"$165.76","x":1238,"y":809,"tier":"f","k":"p"},{"s":"DCR","x":1237,"y":869,"tier":"Y","k":"n"},
{"s":"USDT","x":1352,"y":763,"tier":"H","k":"n"},{"s":"$1.00","x":1352,"y":797,"tier":"L","k":"p"},{"s":"+0.43%","x":1352,"y":815,"tier":"Z","k":"c"},
{"s":"LINK","x":1317,"y":119,"tier":"N","k":"n"},{"s":"$16.65","x":1317,"y":137,"tier":"U","k":"p"},{"s":"-0.64%","x":1317,"y":147,"tier":"d","k":"c"},{"s":"USDC","x":1403,"y":118,"tier":"V","k":"n"},{"s":"$1.00","x":1403,"y":132,"tier":"Z","k":"p"},{"s":"+0.66%","x":1403,"y":139,"tier":"f","k":"c"},
{"s":"WBTC","x":1305,"y":241,"tier":"S","k":"n"},{"s":"$38,720.15","x":1305,"y":250,"tier":"d","k":"p"},{"s":"-4.67%","x":1305,"y":256,"tier":"f","k":"c"},{"s":"THETA","x":1306,"y":318,"tier":"W","k":"n"},{"s":"$1.92","x":1306,"y":328,"tier":"d","k":"p"},{"s":"CRO","x":1370,"y":220,"tier":"V","k":"n"},{"s":"$0.078699","x":1370,"y":227,"tier":"f","k":"p"},{"s":"MKR","x":1416,"y":219,"tier":"X","k":"n"},{"s":"$1,409.86","x":1416,"y":225,"tier":"f","k":"p"},{"s":"SNX","x":1361,"y":299,"tier":"b","k":"n"},{"s":"$13.77","x":1361,"y":305,"tier":"f","k":"p"},{"s":"AAVE","x":1407,"y":275,"tier":"V","k":"n"},{"s":"$121.88","x":1407,"y":284,"tier":"e","k":"p"},{"s":"UNI**","x":1408,"y":319,"tier":"a","k":"n"},{"s":"$5.99","x":1408,"y":328,"tier":"e","k":"p"},
{"s":"DAI","x":1287,"y":372,"tier":"W","k":"n"},{"s":"$1.00","x":1287,"y":382,"tier":"c","k":"p"},{"s":"LEO","x":1330,"y":372,"tier":"Y","k":"n"},{"s":"$1.39","x":1330,"y":381,"tier":"c","k":"p"},{"s":"REV**","x":1374,"y":360,"tier":"c","k":"n"},{"s":"$0.011761","x":1374,"y":367,"tier":"f","k":"p"},{"s":"SUSHI","x":1418,"y":360,"tier":"c","k":"n"},{"s":"$4.42","x":1418,"y":366,"tier":"f","k":"p"},{"s":"ZIL","x":1373,"y":398,"tier":"W","k":"n"},{"s":"$0.074541","x":1373,"y":405,"tier":"f","k":"p"},{"s":"COMP*","x":1417,"y":395,"tier":"c","k":"n"},{"s":"$186.56","x":1417,"y":401,"tier":"f","k":"p"},{"s":"THR","x":1375,"y":428,"tier":"W","k":"n"},{"s":"$1.44","x":1375,"y":434,"tier":"f","k":"p"},{"s":"DGD","x":1419,"y":427,"tier":"Z","k":"n"},{"s":"LRC","x":1419,"y":449,"tier":"b","k":"n"},{"s":"OKB","x":1419,"y":472,"tier":"a","k":"n"},{"s":"HT","x":1324,"y":427,"tier":"R","k":"n"},{"s":"$5.57","x":1323,"y":438,"tier":"d","k":"p"},{"s":"YFI","x":1323,"y":466,"tier":"S","k":"n"},{"s":"$34,270.82","x":1323,"y":474,"tier":"f","k":"p"},{"s":"BUSD","x":1281,"y":440,"tier":"d","k":"p"},{"s":"$1.00","x":1281,"y":447,"tier":"f","k":"p"},{"s":"UMA","x":1363.5,"y":459,"tier":"c","k":"p"},{"s":"$9.89","x":1363.5,"y":465,"tier":"g","k":"p"},{"s":"OMG","x":1388,"y":459,"tier":"c","k":"p"},{"s":"$3.17","x":1388,"y":465,"tier":"g","k":"p"},
{"s":"RSR","x":1277,"y":500,"tier":"e","k":"p"},{"s":"BAT","x":1299,"y":497,"tier":"e","k":"p"},{"s":"NEXO","x":1320,"y":495,"tier":"f","k":"p"},{"s":"TUSD","x":1341,"y":494,"tier":"e","k":"p"},{"s":"ZRX","x":1277,"y":533,"tier":"f","k":"p"},{"s":"REN","x":1298,"y":532,"tier":"e","k":"p"},{"s":"CHSB","x":1339,"y":520,"tier":"f","k":"p"},{"s":"AMPL","x":1339,"y":539,"tier":"e","k":"p"},{"s":"PAX","x":1277,"y":560,"tier":"d","k":"p"},{"s":"REP","x":1298,"y":559,"tier":"e","k":"p"},{"s":"HUT","x":1317,"y":557,"tier":"f","k":"p"},{"s":"KNC","x":1277,"y":579,"tier":"e","k":"p"},{"s":"SNT","x":1298,"y":579,"tier":"e","k":"p"},{"s":"MANA","x":1317,"y":574,"tier":"f","k":"p"},{"s":"BAND","x":1277,"y":596,"tier":"f","k":"p"},{"s":"GNO","x":1298,"y":596,"tier":"e","k":"p"},{"s":"ORBS","x":1277,"y":611,"tier":"g","k":"p"},{"s":"HEDG","x":1298,"y":611,"tier":"f","k":"p"}
]},
"encoding":{"x":{"field":"x","type":"quantitative","axis":null,"scale":{"domain":[0,1443],"nice":false,"zero":false}},"y":{"field":"y","type":"quantitative","axis":null,"scale":{"domain":[0,920],"reverse":true,"nice":false,"zero":false}},"text":{"field":"s"},"size":{"field":"tier","type":"nominal","legend":null,"scale":{"type":"ordinal","domain":["t8","t11","t12","t13","head","logo","A","B","C","D","E","F","G","H","I","J","K","L","M","N","O","P","Q","R","S","T","U","V","W","X","Y","Z","a","b","c","d","e","f","g","dom"],"range":[8,11.5,12.5,13,16,22.5,226,180,74,67,58,44,46,40,38,32,31,32.5,29,27,25,24,22,20,19,19.5,17,15,14,13,12,11,10,9,8,7,6,5,4.5,21]}}},
"layer":[
{"mark":{"type":"text","align":"center","baseline":"alphabetic","font":"Roboto","fontWeight":300,"color":"#000000","opacity":0.25,"dx":1.5,"dy":1}},
{"mark":{"type":"text","align":"center","baseline":"alphabetic","font":"Roboto","fontWeight":300,"color":"#ffffff"},"encoding":{"opacity":{"field":"k","type":"nominal","legend":null,"scale":{"domain":["n","p","c","d"],"range":[1,0.85,0.7,0.6]}}}}
]}
]}
